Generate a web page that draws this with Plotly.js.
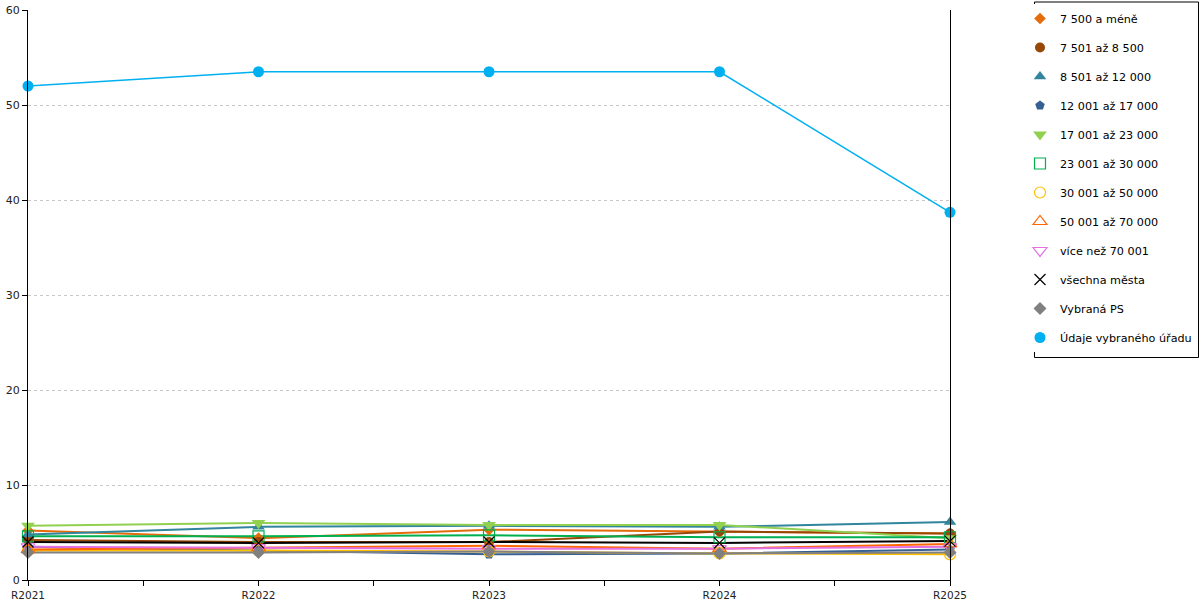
<!DOCTYPE html>
<html>
<head>
<meta charset="utf-8">
<script src="https://cdn.plot.ly/plotly-3.0.1.min.js"></script>
<style>html,body{margin:0;padding:0;background:#fff;}#chart{width:1200px;height:600px;}</style>
</head>
<body>
<div id="chart"></div>
<script>
const categories = ['R2021', 'R2022', 'R2023', 'R2024', 'R2025'];
const seriesNames = ['7 500 a méně', '7 501 až 8 500', '8 501 až 12 000', '12 001 až 17 000', '17 001 až 23 000', '23 001 až 30 000', '30 001 až 50 000', '50 001 až 70 000', 'více než 70 001', 'všechna města', 'Vybraná PS', 'Údaje vybraného úřadu'];
const s7500 = [5.2, 4.4, 5.3, 5.1, 4.9];
const s8500 = [4.2, 4.0, 4.0, 5.1, 4.9];
const s12000 = [4.8, 5.6, 5.7, 5.6, 6.1];
const s17000 = [3.5, 3.1, 2.7, 2.8, 3.2];
const s23000 = [5.7, 6.0, 5.8, 5.8, 4.4];
const s30000 = [4.6, 4.6, 4.7, 4.5, 4.5];
const s50000 = [3.1, 3.1, 3.0, 2.8, 2.7];
const s70000 = [3.2, 3.4, 3.6, 3.3, 3.8];
const s70001 = [3.5, 3.4, 3.3, 3.3, 3.5];
const sAll = [4.0, 3.9, 4.0, 3.9, 4.1];
const sPS = [2.9, 2.9, 3.0, 2.8, 2.9];
const sUrad = [52.0, 53.5, 53.5, 53.5, 38.7];

const allValues = [s7500, s8500, s12000, s17000, s23000, s30000, s50000, s70000, s70001, sAll, sPS, sUrad];
const colors = ['#E46C0A', '#974706', '#31859C', '#376092', '#92D050', '#00B050', '#FFC000', '#FF6600', '#E36FE3', '#000000', '#808080', '#00B0F0'];
const symbols = ['diamond', 'circle', 'triangle-up', 'pentagon', 'triangle-down', 'square-open', 'circle-open', 'triangle-up-open', 'triangle-down-open', 'x-thin-open', 'diamond', 'circle'];
const sizes = [9, 10, 11, 10, 12, 11, 11, 12, 12, 11, 10, 11];

const xIdx = categories.map((c, i) => i);
const lineTraces = allValues.map((vals, k) => ({
  type: 'scatter',
  mode: 'lines',
  showlegend: false,
  legendgroup: 'g' + k,
  x: xIdx,
  y: vals,
  line: {color: colors[k], width: k === 11 ? 1.5 : 2}
}));
const markerTraces = allValues.map((vals, k) => ({
  type: 'scatter',
  mode: 'markers',
  name: seriesNames[k],
  legendgroup: 'g' + k,
  x: xIdx,
  y: vals,
  cliponaxis: false,
  marker: {symbol: symbols[k], size: sizes[k], color: colors[k], line: {color: colors[k], width: (symbols[k].indexOf('open') >= 0) ? 1.2 : 0}}
}));

const layout = {
  width: 1200, height: 600,
  margin: {l: 28, r: 250, t: 10, b: 20, autoexpand: false},
  paper_bgcolor: '#ffffff', plot_bgcolor: '#ffffff',
  font: {family: 'DejaVu Sans, Verdana, sans-serif', size: 11, color: '#222'},
  showlegend: true,
  legend: {
    xref: 'paper', x: (1020 - 28) / 922, xanchor: 'left',
    y: 1 + 6 / 570, yanchor: 'top',
    font: {size: 11.2, color: '#000'},
    borderwidth: 0,
    tracegroupgap: 10,
    itemwidth: 30,
    maxheight: 1
  },
  shapes: [{
    type: 'rect', xref: 'paper', yref: 'paper',
    x0: (1034.5 - 28) / 922, x1: (1198.5 - 28) / 922,
    y0: 1 - (357.5 - 10) / 570, y1: 1 + 8 / 570,
    line: {color: '#000', width: 1}, fillcolor: 'rgba(0,0,0,0)', layer: 'above'
  }],
  xaxis: {
    range: [0, 4], tickmode: 'array', tickvals: xIdx, ticktext: categories,
    showline: true, linecolor: '#000', linewidth: 1,
    ticks: 'outside', ticklen: 5, tickcolor: '#000',
    tickfont: {size: 10.5},
    minor: {dtick: 0.5, tick0: 0, ticks: 'outside', ticklen: 5, tickcolor: '#000', showgrid: false},
    showgrid: false, zeroline: false, fixedrange: true
  },
  yaxis: {
    range: [0, 60], dtick: 10,
    showline: true, linecolor: '#000', linewidth: 1, mirror: true,
    ticks: 'outside', ticklen: 5, tickcolor: '#000',
    showgrid: true, gridcolor: '#c8c8c8', griddash: 'dot', gridwidth: 1,
    zeroline: false
  }
};

Plotly.newPlot('chart', lineTraces.concat(markerTraces), layout, {displayModeBar: false, staticPlot: true});
</script>
</body>
</html>
